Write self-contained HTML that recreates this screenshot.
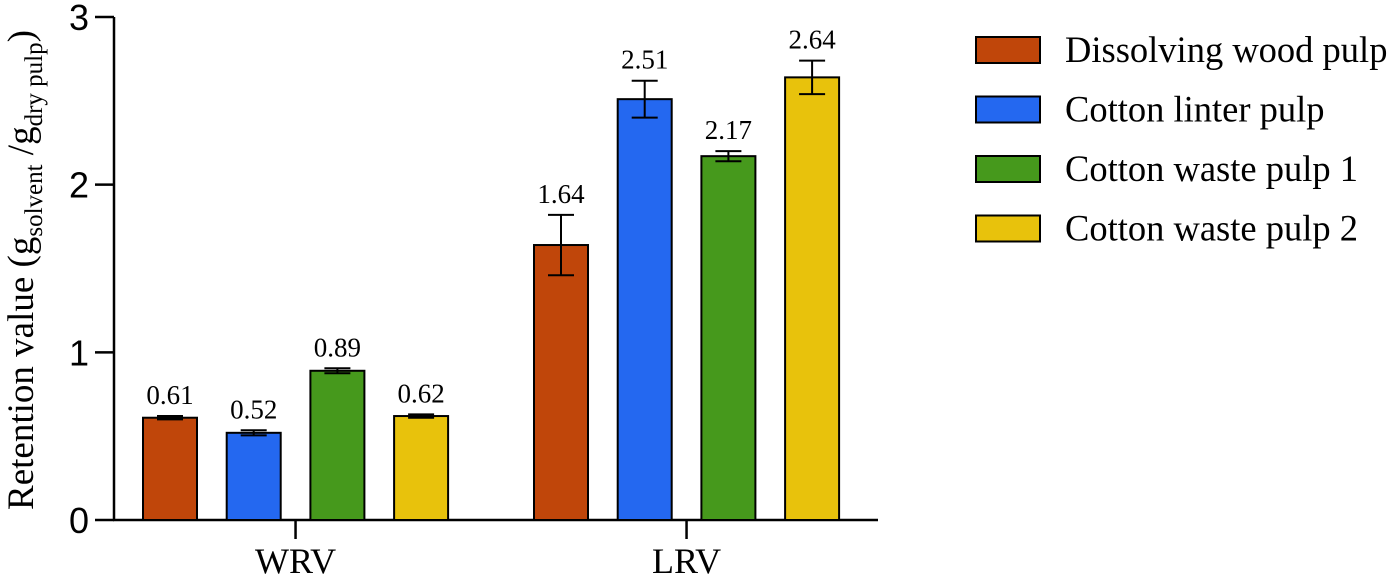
<!DOCTYPE html>
<html><head><meta charset="utf-8"><style>
body{margin:0;background:#fff;}
svg{display:block;}
</style></head><body>
<svg id="c" width="1391" height="586" xmlns="http://www.w3.org/2000/svg">
<text transform="translate(33,270) rotate(-90)" text-anchor="middle" font-family="Liberation Serif, serif" font-size="37">Retention value (g<tspan font-size="25" dy="9">solvent</tspan><tspan dy="-9"> /g</tspan><tspan font-size="25" dy="9">dry pulp</tspan><tspan dy="-9">)</tspan></text>
</svg>
<script>
const categories = ["WRV", "LRV"];
const seriesNames = ["Dissolving wood pulp", "Cotton linter pulp", "Cotton waste pulp 1", "Cotton waste pulp 2"];
const valuesWRV = [0.61, 0.52, 0.89, 0.62];
const valuesLRV = [1.64, 2.51, 2.17, 2.64];
const errorsWRV = [0.01, 0.015, 0.015, 0.01];
const errorsLRV = [0.18, 0.11, 0.03, 0.1];
const yTicks = [0, 1, 2, 3];
const colors = ["#c0460a", "#2468f0", "#46991c", "#e8c20c"];

const svg = document.getElementById('c');
const NS = 'http://www.w3.org/2000/svg';
const y0 = 520, yTop = 17, yMax = 3;
const Y = v => y0 - (y0 - yTop) * v / yMax;
const groupStart = [143, 534];
const barStep = 83.7, barW = 54;
const X = (g, i) => groupStart[g] + i * barStep;

function mk(tag, attrs, text) {
  const e = document.createElementNS(NS, tag);
  for (const k in attrs) e.setAttribute(k, attrs[k]);
  if (text !== undefined) e.textContent = text;
  svg.appendChild(e);
  return e;
}

let e = mk('line', {x1:114, y1:Y(3), x2:114, y2:y0+1, stroke:'#000', 'stroke-width':2.5});


e = mk('line', {x1:113, y1:y0, x2:878, y2:y0, stroke:'#000', 'stroke-width':2.5});



yTicks.forEach(t => {
  let l = mk('line', {x1:95, y1:Y(t), x2:114, y2:Y(t), stroke:'#000', 'stroke-width':2.5});
  
  
  let tx = mk('text', {x:89, y:Y(t)+13, 'text-anchor':'end', 'font-family':'Liberation Sans, sans-serif', 'font-size':36}, String(t));
  
  
});

const allVals = [valuesWRV, valuesLRV];
const allErr = [errorsWRV, errorsLRV];
categories.forEach((c, g) => {
  const cx = (X(g, 0) + X(g, 3) + barW) / 2;
  let l = mk('line', {x1:cx, y1:y0, x2:cx, y2:y0+19, stroke:'#000', 'stroke-width':2.5});
  
  
  let tx = mk('text', {x:cx, y:573, 'text-anchor':'middle', 'font-family':'Liberation Serif, serif', 'font-size':36}, c);
  
  
  allVals[g].forEach((v, i) => {
    const x = X(g, i);
    let r = mk('rect', {x:x, y:Y(v), width:barW, height:y0 - Y(v), fill:colors[i], stroke:'#000', 'stroke-width':2});
    
    
    const err = allErr[g][i], mx = x + barW/2;
    let el = mk('path', {d:`M${mx},${Y(v-err)}V${Y(v+err)}M${mx-13},${Y(v+err)}H${mx+13}M${mx-13},${Y(v-err)}H${mx+13}`, stroke:'#000', 'stroke-width':2, fill:'none'});
    
    
    let vl = mk('text', {x:mx, y:Y(v+err)-12, 'text-anchor':'middle', 'font-family':'Liberation Serif, serif', 'font-size':27}, v.toFixed(2));
    
    
  });
});

seriesNames.forEach((n, i) => {
  const yy = 37 + i * 59.5;
  let r = mk('rect', {x:976, y:yy, width:64, height:26, fill:colors[i], stroke:'#000', 'stroke-width':2});
  
  
  let t = mk('text', {x:1065, y:yy+25, 'font-family':'Liberation Serif, serif', 'font-size':36.5}, n);
  
  
});
</script>
</body></html>
